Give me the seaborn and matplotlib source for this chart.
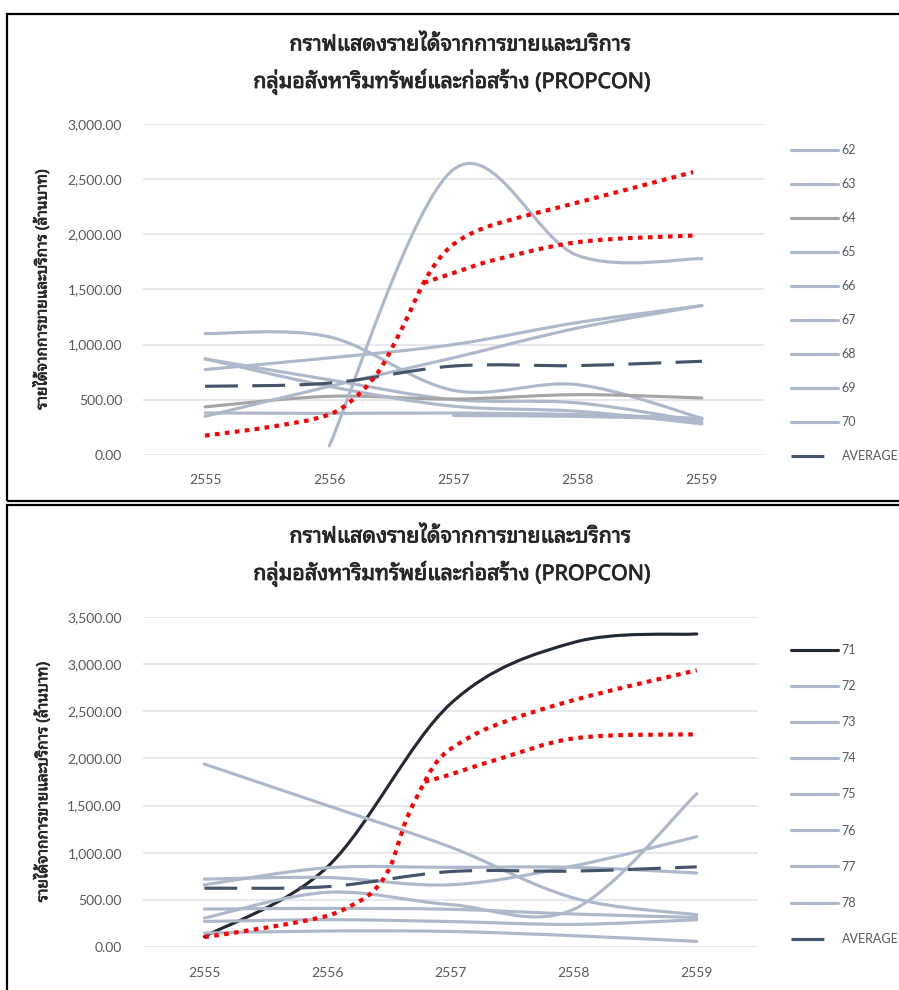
import numpy as np
import matplotlib
matplotlib.use("Agg")
import matplotlib.pyplot as plt
import matplotlib.patheffects as pe
from matplotlib.path import Path
from matplotlib.patches import PathPatch, Rectangle
from matplotlib.lines import Line2D
from matplotlib import font_manager
from matplotlib.ft2font import FT2Font
import seaborn as sns

# ---------------------------------------------------------------- data
years = [2555, 2556, 2557, 2558, 2559]
nan = np.nan

top_labels = ["62", "63", "64", "65", "66", "67", "68", "69", "70"]
s62 = [1100, 1070, 584, 636, 330]
s63 = [870, 680, 500, 470, 300]
s64 = [434, 530, 505, 545, 515]
s65 = [773, 879, 1000, 1200, 1354]
s66 = [870, 620, 440, 394, 280]
s67 = [379, 375, 378, 364, 330]
s68 = [348, 620, 880, 1150, 1354]
s69 = [nan, 80, 2590, 1809, 1780]
s70 = [nan, nan, 355, 348, 320]
top_avg = [621, 650, 805, 809, 848]

# red guide curves (upper chart)
top_red_a_x = [2555.0, 2555.55, 2556.0, 2556.2, 2556.4, 2556.6, 2556.76, 2556.9, 2557.05, 2557.3, 2558.0, 2558.93]
top_red_a_y = [173, 257, 364, 510, 760, 1180, 1561, 1800, 1950, 2080, 2290, 2566]
top_red_b_x = [2556.76, 2557.0, 2557.3, 2558.0, 2558.93]
top_red_b_y = [1561, 1650, 1760, 1930, 1990]

bot_labels = ["71", "72", "73", "74", "75", "76", "77", "78"]
s71 = [110, 850, 2580, 3230, 3320]
s72 = [1940, 1500, 1060, 520, 342]
s73 = [720, 737, 660, 860, 1170]
s74 = [660, 840, 845, 845, 785]
s75 = [307, 580, 450, 400, 1625]
s76 = [148, 170, 165, 120, 60]
s77 = [271, 290, 270, 240, 289]
s78 = [402, 410, 400, 350, 313]
bot_avg = [624, 640, 800, 805, 850]

# red guide curves (lower chart)
bot_red_a_x = [2555.0, 2555.56, 2556.0, 2556.18, 2556.37, 2556.51, 2556.64, 2556.79, 2556.88, 2557.0, 2557.32, 2558.0, 2559.0]
bot_red_a_y = [105, 218, 331, 430, 589, 853, 1347, 1753, 1950, 2100, 2330, 2618, 2935]
bot_red_b_x = [2556.79, 2556.94, 2557.32, 2558.0, 2559.0]
bot_red_b_y = [1753, 1806, 1965, 2212, 2255]

title_1 = "กราฟแสดงรายได้จากการขายและบริการ"
title_2 = "กลุ่มอสังหาริมทรัพย์และก่อสร้าง (PROPCON)"
y_title = "รายได้จากการขายและบริการ (ล้านบาท)"

# ---------------------------------------------------------------- fonts
def covers_thai(path):
    try:
        return 0x0E01 in FT2Font(path).get_charmap()
    except Exception:
        return False

thai_fams = []
for fe in font_manager.fontManager.ttflist:
    if fe.name not in thai_fams and covers_thai(fe.fname):
        thai_fams.append(fe.name)
preferred = ["Noto Sans Thai Looped", "IBM Plex Sans Thai Looped", "Loma", "Noto Sans Thai"]
thai_font = next((f for f in preferred if f in thai_fams), thai_fams[0] if thai_fams else "DejaVu Sans")

sns.set_theme(style="white")
plt.rcParams["font.family"] = [thai_font, "DejaVu Sans"]
NUM_FONT = ["Lato", "DejaVu Sans"]

# ---------------------------------------------------------------- style
LIGHT = "#ADB9CA"
GRAY = "#A5A5A5"
AVG = "#44546A"
DARK = "#222A35"
RED = "#FF0000"
GRID = "#DEE3EA"
TICK = "#595959"
TEXT = "#262626"
LW = 2.25
DASH = (0, (10.5, 4.6))
DOT = (0, (1.1, 1.3))
HEAVY = [pe.withStroke(linewidth=0.6, foreground=TEXT)]


def smooth_path(xs, ys):
    """Cubic Bezier path through the points, tangents from neighbouring points."""
    pts = np.array([(x, y) for x, y in zip(xs, ys) if not np.isnan(y)], float)
    t = pts[:, 0]
    n = len(pts)
    tang = np.zeros_like(pts)
    for i in range(n):
        if i == 0:
            tang[i] = (pts[1] - pts[0]) / (2 * (t[1] - t[0]))
        elif i == n - 1:
            tang[i] = (pts[-1] - pts[-2]) / (2 * (t[-1] - t[-2]))
        else:
            tang[i] = (pts[i + 1] - pts[i - 1]) / (t[i + 1] - t[i - 1])
    verts, codes = [pts[0]], [Path.MOVETO]
    for i in range(n - 1):
        d = t[i + 1] - t[i]
        verts += [pts[i] + tang[i] * d / 3, pts[i + 1] - tang[i + 1] * d / 3, pts[i + 1]]
        codes += [Path.CURVE4] * 3
    return Path(verts, codes)


def curve(ax, xs, ys, color, lw=LW, ls="-", cap="round", z=3):
    ax.add_patch(PathPatch(smooth_path(xs, ys), facecolor="none", edgecolor=color,
                           lw=lw, linestyle=ls, capstyle=cap, joinstyle="round", zorder=z))


fig = plt.figure(figsize=(8.99, 9.9), dpi=100)
W, H = 899, 990
renderer = fig.canvas.get_renderer()


def fit_size(text, target_px, **kw):
    probe = fig.text(0, 0, text, fontsize=10, **kw)
    width = probe.get_window_extent(renderer).width
    probe.remove()
    return 10 * target_px / width


title_size = fit_size(title_1, 344, fontweight="bold")
ylab_size = fit_size(y_title, 242, fontweight="bold")


def px_rect(x0, y0, x1, y1):
    return [x0 / W, 1 - y1 / H, (x1 - x0) / W, (y1 - y0) / H]


def panel(rect, ymax, series, labels, colors, avg, reds, title_y, leg_top, leg_step):
    ax = fig.add_axes(rect)
    ax.set_xlim(2554.5, 2559.5)
    ax.set_ylim(-3, ymax + 3)
    ticks = np.arange(0, ymax + 1, 500)
    ax.set_yticks(ticks)
    ax.set_yticklabels([f"{v:,.2f}" for v in ticks], fontfamily=NUM_FONT, fontsize=10, color=TICK)
    ax.set_xticks(years)
    ax.set_xticklabels([str(y) for y in years], fontfamily=NUM_FONT, fontsize=10, color=TICK)
    ax.tick_params(axis="y", length=0, pad=15)
    ax.tick_params(axis="x", length=0, pad=14)
    ax.grid(axis="y", color=GRID, lw=1.1)
    ax.grid(axis="x", visible=False)
    ax.set_axisbelow(True)
    sns.despine(ax=ax, left=True, bottom=True)
    ax.set_ylabel(y_title, fontsize=ylab_size, fontweight="bold", color=TEXT)
    ax.yaxis.label.set_va("center")
    ax.yaxis.label.set_path_effects([pe.withStroke(linewidth=0.5, foreground=TEXT)])
    ax.yaxis.set_label_coords(-0.163, 0.5)

    for s, c in zip(series, colors):
        curve(ax, years, s, c)
    curve(ax, years, avg, AVG, ls=DASH, cap="butt", z=4)
    for rx, ry in reds:
        curve(ax, rx, ry, RED, lw=3.0, ls=DOT, cap="butt", z=5)

    for dy, txt, cx in [(0, title_1, 460), (37, title_2, 452)]:
        fig.text(cx / W, 1 - (title_y + dy) / H, txt, ha="center", va="center",
                 fontsize=title_size, fontweight="bold", color=TEXT, path_effects=HEAVY)

    handles = [Line2D([], [], color=c, lw=LW) for c in colors]
    handles.append(Line2D([], [], color=AVG, lw=LW, linestyle=DASH, dash_capstyle="butt"))
    leg = ax.legend(handles, labels + ["AVERAGE"], loc="upper left",
                    bbox_to_anchor=(791 / W, 1 - leg_top / H), bbox_transform=fig.transFigure,
                    frameon=False, handlelength=3.75, handletextpad=0.3,
                    labelspacing=leg_step, borderpad=0, borderaxespad=0,
                    prop={"family": NUM_FONT, "size": 9})
    for t in leg.get_texts():
        t.set_color(TICK)
    return ax


top_series = [s62, s63, s64, s65, s66, s67, s68, s69, s70]
top_colors = [LIGHT, LIGHT, GRAY, LIGHT, LIGHT, LIGHT, LIGHT, LIGHT, LIGHT]
panel(px_rect(143, 124, 764, 455), 3000, top_series, top_labels, top_colors, top_avg,
      [(top_red_a_x, top_red_a_y), (top_red_b_x, top_red_b_y)], 45, 144, 1.76)

bot_series = [s71, s72, s73, s74, s75, s76, s77, s78]
bot_colors = [DARK] + [LIGHT] * 7
panel(px_rect(142.8, 616.7, 758.3, 947.3), 3500, bot_series, bot_labels, bot_colors, bot_avg,
      [(bot_red_a_x, bot_red_a_y), (bot_red_b_x, bot_red_b_y)], 537, 644, 1.93)

# panel frames
for (x0, y0, x1, y1) in [(7, 14, 910, 501), (7, 505, 910, 1000)]:
    fig.patches.append(Rectangle((x0 / W, 1 - y1 / H), (x1 - x0) / W, (y1 - y0) / H,
                                 transform=fig.transFigure, fill=False, edgecolor="black",
                                 lw=1.6, zorder=10))

fig.savefig("out.png", dpi=100)
